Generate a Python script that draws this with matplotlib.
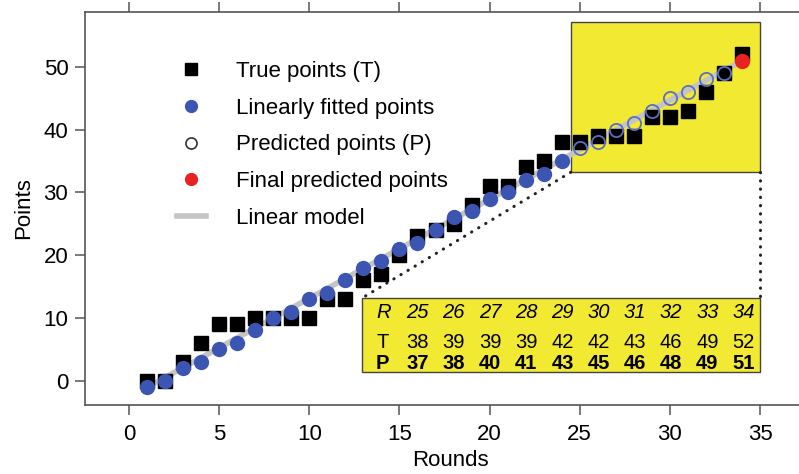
import matplotlib
matplotlib.use("Agg")
import matplotlib.pyplot as plt
from matplotlib.lines import Line2D
from matplotlib.patches import Rectangle

plt.rcParams['font.family'] = ['Liberation Sans', 'DejaVu Sans']

# ---- data ----
rounds_fit = list(range(1, 25))
true_fit = [0, 0, 3, 6, 9, 9, 10, 10, 10, 10, 13, 13, 16, 17, 20, 23, 24, 25, 28, 31, 31, 34, 35, 38]
fitted = [-1, 0, 2, 3, 5, 6, 8, 10, 11, 13, 14, 16, 18, 19, 21, 22, 24, 26, 27, 29, 30, 32, 33, 35]

rounds_pred = list(range(25, 35))
true_pred = [38, 39, 39, 39, 42, 42, 43, 46, 49, 52]
predicted = [37, 38, 40, 41, 43, 45, 46, 48, 49, 51]

model_x = [1, 34]
model_y = [-1.1, 51.0]

x_ticks = [0, 5, 10, 15, 20, 25, 30, 35]
y_ticks = [0, 10, 20, 30, 40, 50]

BLUE = '#3d55b2'
RED = '#e8231f'
YELLOW = '#f2e933'
GRAY = '#c4c4c4'
SPINE = '#555555'

fig = plt.figure(figsize=(7.99, 4.74), dpi=100)
ax = fig.add_axes([85/799, 69/474, (816-85)/799, (405-12)/474])
ax.set_xlim(-2.44, (816-129)/18.03)
ax.set_ylim(-3.9, 58.75)

# highlight rectangle behind predicted points
ax.add_patch(Rectangle((24.5, 33.2), 35.0-24.5, 57.1-33.2, facecolor=YELLOW,
                       edgecolor='#444444', linewidth=1.0, zorder=0.5))

# linear model
ax.plot(model_x, model_y, color=GRAY, linewidth=4, solid_capstyle='butt', zorder=1)

all_rounds = rounds_fit + rounds_pred
all_true = true_fit + true_pred
ax.plot(all_rounds, all_true, linestyle='none', marker='s', markersize=9.8,
        color='black', zorder=2)
ax.plot(rounds_fit, fitted, linestyle='none', marker='o', markersize=10,
        color=BLUE, zorder=3)
ax.plot(rounds_pred[:-1], predicted[:-1], linestyle='none', marker='o', markersize=9.5,
        markerfacecolor='none', markeredgecolor='#5a6ec4', markeredgewidth=1.3, zorder=3)
ax.plot(rounds_pred[-1:], predicted[-1:], linestyle='none', marker='o', markersize=10,
        color=RED, zorder=4)

# table box
tx0, tx1, ty0, ty1 = 12.9, 35.0, 1.33, 13.1
ax.add_patch(Rectangle((tx0, ty0), tx1-tx0, ty1-ty0, facecolor=YELLOW,
                       edgecolor='#444444', linewidth=1.0, zorder=5))
# dotted connectors
ax.plot([24.5, tx0], [33.2, ty1], linestyle=(0, (0.1, 2.6)), dash_capstyle='round',
        color='#222222', linewidth=2.2, zorder=1.5)
ax.plot([35.0, 35.0], [33.2, ty1], linestyle=(0, (0.1, 2.6)), dash_capstyle='round',
        color='#222222', linewidth=2.2, zorder=1.5)

ry, tyy, py = 10.86, 6.0, 2.75
FS_T = 14.5
ax.text(14.15, ry, 'R', ha='center', va='center', fontsize=FS_T, style='italic', zorder=6)
ax.text(14.05, tyy, 'T', ha='center', va='center', fontsize=FS_T, zorder=6)
ax.text(14.05, py, 'P', ha='center', va='center', fontsize=FS_T, fontweight='bold', zorder=6)
for i, r in enumerate(rounds_pred):
    cx = 16.0 + 2.01 * i
    ax.text(cx, ry, str(r), ha='center', va='center', fontsize=FS_T, style='italic', zorder=6)
    ax.text(cx, tyy, str(true_pred[i]), ha='center', va='center', fontsize=FS_T, zorder=6)
    ax.text(cx, py, str(predicted[i]), ha='center', va='center', fontsize=FS_T,
            fontweight='bold', zorder=6)

# axes styling
for s in ['left', 'bottom', 'top', 'right']:
    ax.spines[s].set_color(SPINE)
    ax.spines[s].set_linewidth(1.2)
ax.set_xticks(x_ticks)
ax.set_yticks(y_ticks)
ax.tick_params(axis='both', direction='out', length=7, width=1.1, color=SPINE,
               labelsize=16, pad=5)
ax.tick_params(axis='x', top=True, labeltop=False, pad=7)
ax.set_xlabel('Rounds', fontsize=16, labelpad=3)
ax.set_ylabel('Points', fontsize=16, labelpad=7)

handles = [
    Line2D([], [], linestyle='none', marker='s', markersize=8, color='black'),
    Line2D([], [], linestyle='none', marker='o', markersize=8.5, color=BLUE),
    Line2D([], [], linestyle='none', marker='o', markersize=8, markerfacecolor='none',
           markeredgecolor='#333333', markeredgewidth=1.2),
    Line2D([], [], linestyle='none', marker='o', markersize=8.5, color=RED),
    Line2D([], [], color=GRAY, linewidth=4),
]
labels = ['True points (T)', 'Linearly fitted points', 'Predicted points (P)',
          'Final predicted points', 'Linear model']
ax.legend(handles, labels, loc='upper left', bbox_to_anchor=((168-85)/731, (405-52)/393),
          frameon=False, fontsize=16, handlelength=1.3, handletextpad=1.35,
          labelspacing=0.71, borderaxespad=0)

fig.savefig('out.png', dpi=100)
